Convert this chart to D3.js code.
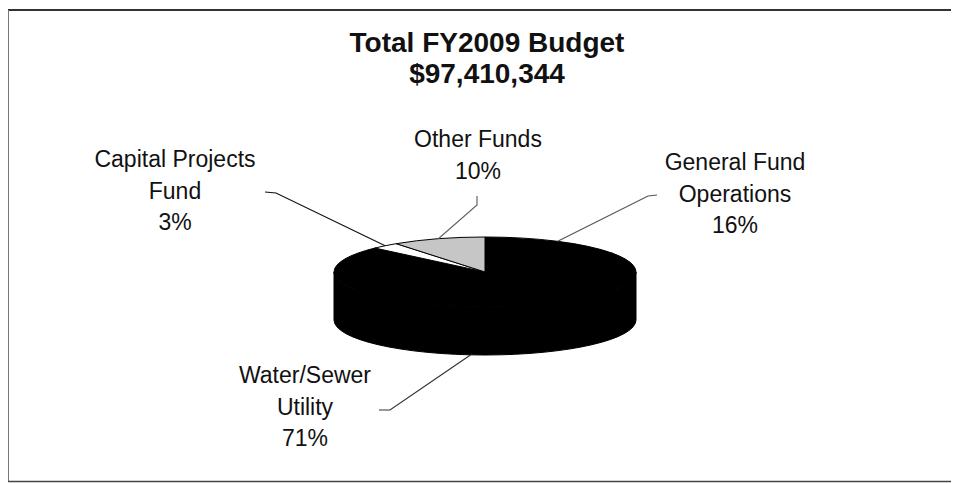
<!DOCTYPE html>
<html>
<head>
<meta charset="utf-8">
<script src="https://cdn.jsdelivr.net/npm/d3@7"></script>
<style>
  html, body { margin: 0; padding: 0; background: #fff; overflow: hidden; }
  svg { display: block; }
  text { font-family: "Liberation Sans", Arial, sans-serif; fill: #111; }
</style>
</head>
<body>
<svg id="chart" width="954" height="483"></svg>
<script>
// ---- data ----
const titleLines = ["Total FY2009 Budget", "$97,410,344"];
const categories = ["General Fund Operations", "Water/Sewer Utility", "Capital Projects Fund", "Other Funds"];
const labelLines = [["General Fund", "Operations"], ["Water/Sewer", "Utility"], ["Capital Projects", "Fund"], ["Other Funds"]];
const values = [16, 71, 3, 10];
const percentLabels = ["16%", "71%", "3%", "10%"];

// ---- layout / style ----
const W = 954, H = 483;
const cx = 485, cy = 272, rx = 151, ry = 35, depth = 48;
const sliceColors = ["#000000", "#000000", "#ffffff", "#c6c6c6"];
const labelFont = 23, lineGap = 31.5;
// label anchor (center x, first baseline) and elbow of the leader line
const labelLayout = [
  { x: 735, y: 170, line: [[657, 195], [648, 196]], color: "#555" },
  { x: 305, y: 383, line: [[379, 410], [390, 410]], color: "#333" },
  { x: 175, y: 167, line: [[265, 192], [276, 193]], color: "#111" },
  { x: 478, y: 147, line: [[477, 196], [477, 205]], color: "#666" }
];

const svg = d3.select("#chart");

// frame (top, left, bottom; the right edge is cut off in the original)
svg.append("line").attr("x1", 8).attr("x2", W - 3).attr("y1", 10).attr("y2", 10)
  .attr("stroke", "#333").attr("stroke-width", 2);
svg.append("line").attr("x1", 8.5).attr("x2", 8.5).attr("y1", 10).attr("y2", 481)
  .attr("stroke", "#777").attr("stroke-width", 1);
svg.append("line").attr("x1", 8).attr("x2", W - 3).attr("y1", 481.5).attr("y2", 481.5)
  .attr("stroke", "#444").attr("stroke-width", 1.5);

// title
titleLines.forEach((t, i) => {
  svg.append("text").attr("x", 487).attr("y", 52 + i * 31)
    .attr("text-anchor", "middle").attr("font-size", 28).attr("font-weight", "bold").text(t);
});

// pie angles via d3.pie (clockwise from 12 o'clock, data order)
const pie = d3.pie().sort(null).value(d => d)(values);

const px = a => cx + rx * Math.sin(a);
const py = (a, dz = 0) => cy - ry * Math.cos(a) + dz;

// side walls (front part only: angles between PI/2 and 3PI/2)
const g = svg.append("g");
pie.forEach((p, i) => {
  const a0 = Math.max(p.startAngle, Math.PI / 2);
  const a1 = Math.min(p.endAngle, 3 * Math.PI / 2);
  if (a1 <= a0) return;
  const large = (a1 - a0) > Math.PI ? 1 : 0;
  const d = `M${px(a0)},${py(a0)} A${rx},${ry} 0 ${large} 1 ${px(a1)},${py(a1)}`
    + ` L${px(a1)},${py(a1, depth)} A${rx},${ry} 0 ${large} 0 ${px(a0)},${py(a0, depth)} Z`;
  g.append("path").attr("d", d).attr("fill", "#000")
    .attr("stroke", "#000").attr("stroke-width", 1);
});

// top faces
pie.forEach((p, i) => {
  const a0 = p.startAngle, a1 = p.endAngle;
  const large = (a1 - a0) > Math.PI ? 1 : 0;
  const d = `M${cx},${cy} L${px(a0)},${py(a0)} A${rx},${ry} 0 ${large} 1 ${px(a1)},${py(a1)} Z`;
  g.append("path").attr("d", d).attr("fill", sliceColors[i])
    .attr("stroke", "#000").attr("stroke-width", 1).attr("stroke-linejoin", "round");
});

// leader lines and labels
pie.forEach((p, i) => {
  const mid = (p.startAngle + p.endAngle) / 2;
  const front = Math.cos(mid) < 0;
  const anchor = [px(mid), py(mid, front ? depth : 0)];
  const L = labelLayout[i];
  const pts = [L.line[0], L.line[1], anchor];
  svg.append("path").attr("d", d3.line()(pts)).attr("fill", "none")
    .attr("stroke", L.color).attr("stroke-width", 1.2);
  const lines = labelLines[i].concat([percentLabels[i]]);
  const t = svg.append("text").attr("text-anchor", "middle").attr("font-size", labelFont);
  lines.forEach((s, k) => {
    t.append("tspan").attr("x", L.x).attr("y", L.y + k * lineGap).text(s);
  });
});
</script>
</body>
</html>
